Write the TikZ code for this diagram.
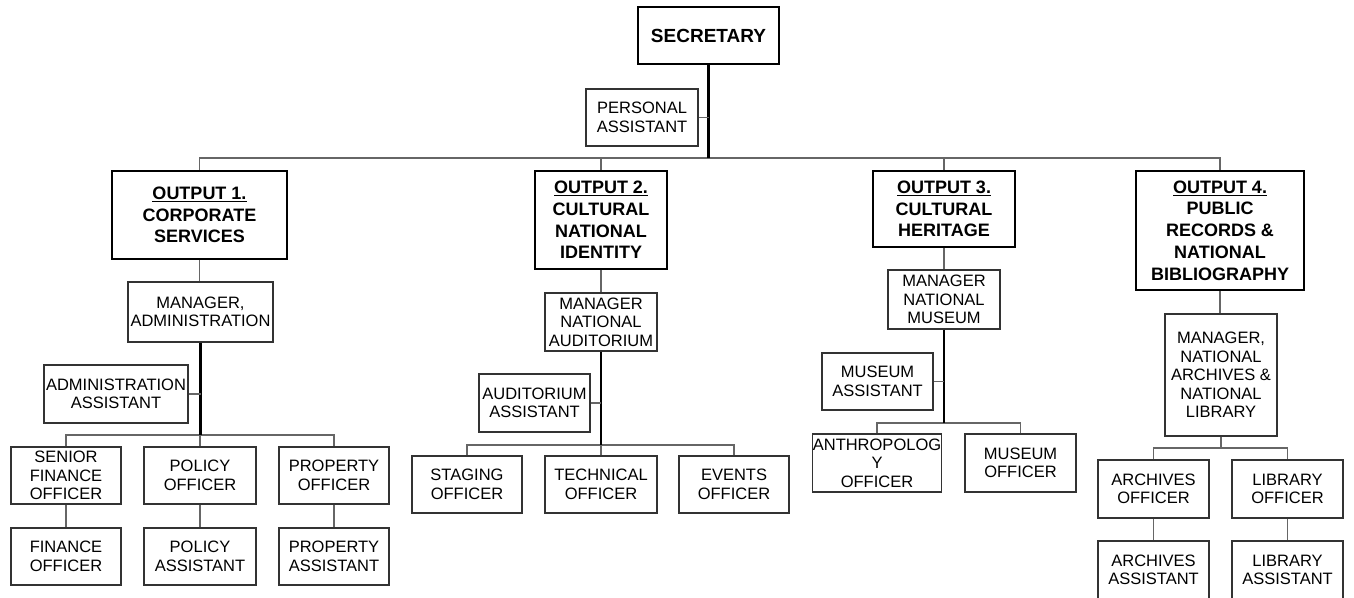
\documentclass[tikz,border=0pt]{standalone}
\usepackage{fontspec}
\setmainfont{Liberation Sans}
\newcommand{\regfont}{\fontsize{16.5}{18.5}\selectfont}
\newcommand{\headfont}{\fontsize{18}{21.7}\selectfont\bfseries}
\newcommand{\topfont}{\fontsize{19}{22}\selectfont\bfseries}
\tikzset{
  box/.style={draw=black!80, line width=1.2pt, fill=white, inner sep=0pt,
              align=center, font=\regfont},
  headbox/.style={box, draw=black, line width=1.6pt, font=\headfont},
  spine/.style={draw=black, line width=2.4pt},
  link/.style={draw=black!60, line width=1.4pt},
}
\begin{document}
\begin{tikzpicture}[x=1pt,y=-1pt]
\useasboundingbox (0,0) rectangle (1354,597);
\clip (0,0) rectangle (1354,597);
\fill[white] (0,0) rectangle (1354,597);

% ---- top level ----
\node[headbox, font=\topfont, minimum width=141, minimum height=57] (sec) at (708.5,35.5) {SECRETARY};
\node[box, minimum width=112, minimum height=57] (pa) at (642,117.5) {PERSONAL\\ASSISTANT};

% ---- outputs ----
\node[headbox, minimum width=175, minimum height=88] (o1) at (199.5,215) {\underline{OUTPUT 1.}\\CORPORATE\\SERVICES};
\node[headbox, minimum width=132, minimum height=98] (o2) at (601,220) {\underline{OUTPUT 2.}\\CULTURAL\\NATIONAL\\IDENTITY};
\node[headbox, minimum width=142, minimum height=76] (o3) at (944,209) {\underline{OUTPUT 3.}\\CULTURAL\\HERITAGE};
\node[headbox, minimum width=168, minimum height=119] (o4) at (1220,230.5) {\underline{OUTPUT 4.}\\PUBLIC\\RECORDS \&\\NATIONAL\\BIBLIOGRAPHY};

% ---- corporate services ----
\node[box, minimum width=145, minimum height=60] (m1) at (200.5,312) {MANAGER,\\ADMINISTRATION};
\node[box, minimum width=144, minimum height=58] (aa) at (116,394) {ADMINISTRATION\\ASSISTANT};
\node[box, minimum width=110, minimum height=57] (sfo) at (66,475.5) {SENIOR\\FINANCE\\OFFICER};
\node[box, minimum width=112, minimum height=57] (po) at (200,475.5) {POLICY\\OFFICER};
\node[box, minimum width=110, minimum height=57] (pro) at (334,475.5) {PROPERTY\\OFFICER};
\node[box, minimum width=110, minimum height=57] (fo) at (66,556.5) {FINANCE\\OFFICER};
\node[box, minimum width=112, minimum height=57] (pas) at (200,556.5) {POLICY\\ASSISTANT};
\node[box, minimum width=110, minimum height=57] (pras) at (334,556.5) {PROPERTY\\ASSISTANT};

% ---- cultural national identity ----
\node[box, minimum width=112, minimum height=58] (m2) at (601,322) {MANAGER\\NATIONAL\\AUDITORIUM};
\node[box, minimum width=111, minimum height=58] (aua) at (534.5,403) {AUDITORIUM\\ASSISTANT};
\node[box, minimum width=110, minimum height=57] (st) at (467,484.5) {STAGING\\OFFICER};
\node[box, minimum width=112, minimum height=57] (te) at (601,484.5) {TECHNICAL\\OFFICER};
\node[box, minimum width=110, minimum height=57] (ev) at (734,484.5) {EVENTS\\OFFICER};

% ---- cultural heritage ----
\node[box, minimum width=112, minimum height=59] (m3) at (944,299.5) {MANAGER\\NATIONAL\\MUSEUM};
\node[box, minimum width=111, minimum height=57] (mua) at (877.5,381.5) {MUSEUM\\ASSISTANT};
\node[box, minimum width=128, minimum height=58] (an) at (877,463) {ANTHROPOLOG\\Y\\OFFICER};
\node[box, minimum width=111, minimum height=58] (mo) at (1020.5,463) {MUSEUM\\OFFICER};

% ---- public records ----
\node[box, minimum width=112, minimum height=122] (m4) at (1221,375) {MANAGER,\\NATIONAL\\ARCHIVES \&\\NATIONAL\\LIBRARY};
\node[box, minimum width=111, minimum height=58] (ao) at (1153.5,489) {ARCHIVES\\OFFICER};
\node[box, minimum width=111, minimum height=58] (lo) at (1287.5,489) {LIBRARY\\OFFICER};
\node[box, minimum width=111, minimum height=58] (aas) at (1153.5,570) {ARCHIVES\\ASSISTANT};
\node[box, minimum width=111, minimum height=58] (las) at (1287.5,570) {LIBRARY\\ASSISTANT};

% ---- junction points ----
\coordinate (j0) at (708.5,158);
\coordinate (j1) at (200,435);
\coordinate (j2) at (601,445);
\coordinate (j3) at (944,423);
\coordinate (j4) at (1221,448);

% ---- connectors ----
% secretary
\path[link] (o1.north) |- (j0) -| (o4.north);
\path[link] (o2.north) -- (o2.north |- j0);
\path[link] (o3.north) -- (o3.north |- j0);
\path[spine] (sec.south) -- (j0);
\path[link] (pa.east) -- (pa.east -| j0);

% output 1
\path[link] (o1.south) -- (o1.south |- m1.north);
\path[link] (sfo.north) |- (j1) -| (pro.north);
\path[link] (po.north) -- (j1);
\path[spine] (m1.south) -- (m1.south |- j1);
\path[link] (aa.east) -- (aa.east -| m1.south);
\path[link] (sfo.south) -- (fo.north);
\path[link] (po.south) -- (pas.north);
\path[link] (pro.south) -- (pras.north);

% output 2
\path[link] (o2.south) -- (m2.north);
\path[link] (st.north) |- (j2) -| (ev.north);
\path[link] (te.north) -- (j2);
\path[spine] (m2.south) -- (j2);
\path[link] (aua.east) -- (aua.east -| j2);

% output 3
\path[link] (o3.south) -- (m3.north);
\path[link] (an.north) |- (j3) -| (mo.north);
\path[spine] (m3.south) -- (j3);
\path[link] (mua.east) -- (mua.east -| j3);

% output 4
\path[link] (o4.south) -- (o4.south |- m4.north);
\path[link] (m4.south) -- (j4);
\path[link] (ao.north) |- (j4) -| (lo.north);
\path[link] (ao.south) -- (aas.north);
\path[link] (lo.south) -- (las.north);
\end{tikzpicture}
\end{document}
